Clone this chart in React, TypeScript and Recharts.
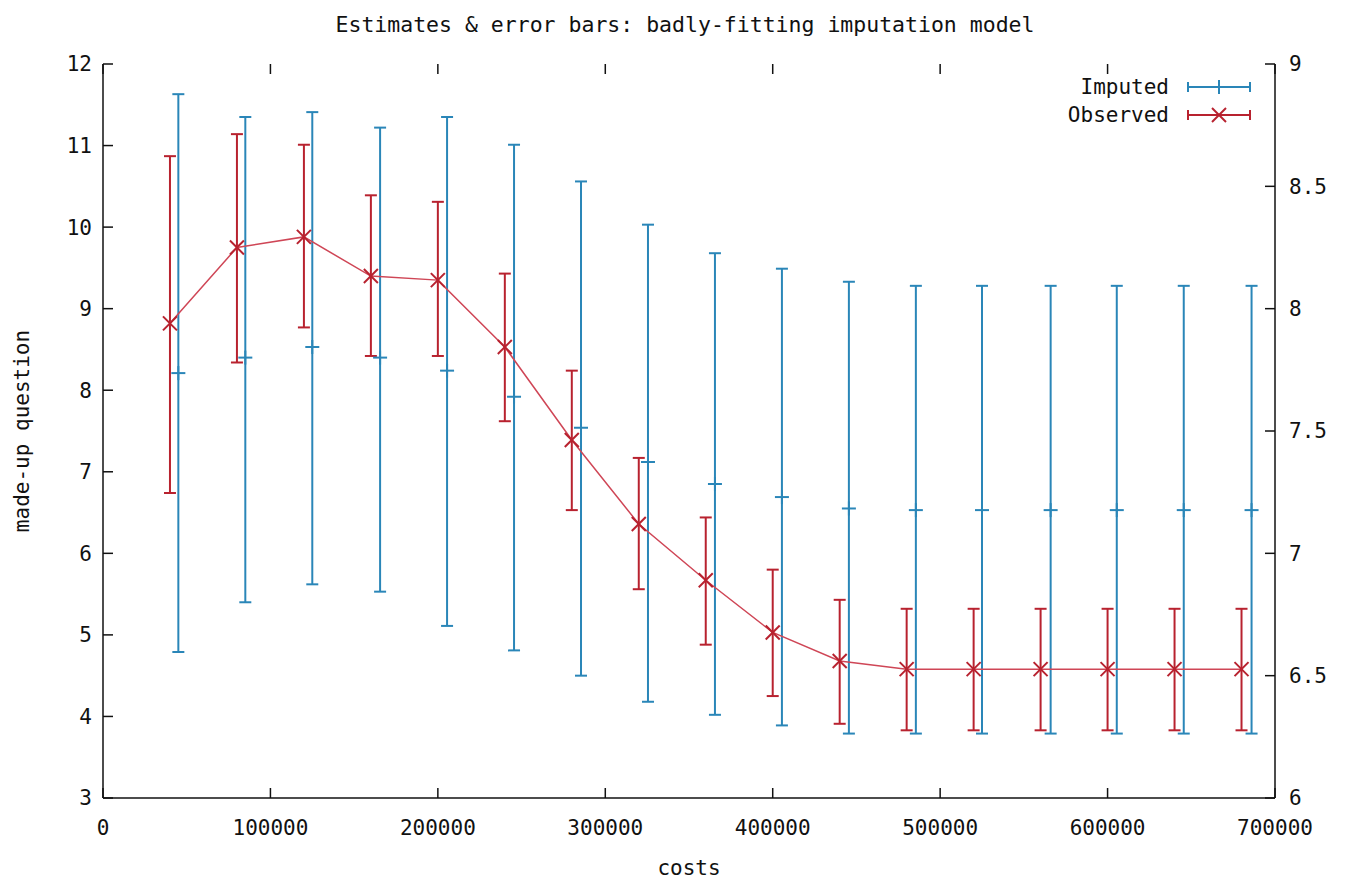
import { ComposedChart, ErrorBar, Legend, Line, ReferenceLine, Scatter, XAxis, YAxis } from 'recharts';

const FONT = '"DejaVu Sans Mono", monospace';
const BLUE = '#2a86b8';
const RED = '#b8222f';
const RED_LINE = '#cf4656';
const INK = '#111';

// x positions (costs)
const OBS_COSTS = [40000, 80000, 120000, 160000, 200000, 240000, 280000, 320000, 360000, 400000, 440000, 480000, 520000, 560000, 600000, 640000, 680000];
const IMP_COSTS = [45000, 85000, 125000, 165500, 205500, 245500, 285500, 325500, 365500, 405500, 445500, 485500, 525000, 566000, 605500, 645500, 686000];

// observed: estimate and error bar ends
const OBS_Y = [8.82, 9.75, 9.88, 9.4, 9.35, 8.53, 7.39, 6.36, 5.67, 5.03, 4.68, 4.58, 4.58, 4.58, 4.58, 4.58, 4.58];
const OBS_LOW = [6.74, 8.34, 8.77, 8.42, 8.42, 7.62, 6.53, 5.56, 4.88, 4.25, 3.91, 3.83, 3.83, 3.83, 3.83, 3.83, 3.83];
const OBS_HIGH = [10.87, 11.14, 11.01, 10.39, 10.31, 9.43, 8.24, 7.17, 6.44, 5.8, 5.43, 5.32, 5.32, 5.32, 5.32, 5.32, 5.32];

// imputed: estimate and error bar ends
const IMP_Y = [8.21, 8.4, 8.53, 8.4, 8.24, 7.92, 7.54, 7.12, 6.85, 6.69, 6.55, 6.53, 6.53, 6.53, 6.53, 6.53, 6.53];
const IMP_LOW = [4.79, 5.4, 5.62, 5.53, 5.11, 4.81, 4.5, 4.18, 4.02, 3.89, 3.79, 3.79, 3.79, 3.79, 3.79, 3.79, 3.79];
const IMP_HIGH = [11.63, 11.35, 11.41, 11.22, 11.35, 11.01, 10.56, 10.03, 9.68, 9.49, 9.33, 9.28, 9.28, 9.28, 9.28, 9.28, 9.28];

const X_TICKS = [0, 100000, 200000, 300000, 400000, 500000, 600000, 700000];
const LEFT_TICKS = [3, 4, 5, 6, 7, 8, 9, 10, 11, 12];
const RIGHT_TICKS = [6, 6.5, 7, 7.5, 8, 8.5, 9];

const X_DOMAIN: [number, number] = [0, 700000];
const LEFT_DOMAIN: [number, number] = [3, 12];
const RIGHT_DOMAIN: [number, number] = [6, 9];

const observed = OBS_COSTS.map((x, i) => ({ x, y: OBS_Y[i], err: [OBS_Y[i] - OBS_LOW[i], OBS_HIGH[i] - OBS_Y[i]] }));
const imputed = IMP_COSTS.map((x, i) => ({ x, y: IMP_Y[i], err: [IMP_Y[i] - IMP_LOW[i], IMP_HIGH[i] - IMP_Y[i]] }));

// inward tick marks (gnuplot style), length as a fraction of each axis span
const TICK_FRAC_X = 10 / 1172;
const TICK_FRAC_Y = 10 / 734;
const dx = (X_DOMAIN[1] - X_DOMAIN[0]) * TICK_FRAC_X;
const dyL = (LEFT_DOMAIN[1] - LEFT_DOMAIN[0]) * TICK_FRAC_Y;
const dyR = (RIGHT_DOMAIN[1] - RIGHT_DOMAIN[0]) * TICK_FRAC_Y;

const tickStyle = { fill: INK, fontSize: 21, fontFamily: FONT };

function PlusMark(props: any) {
  const { cx, cy } = props;
  if (cx == null || cy == null) return null;
  return (
    <g stroke={BLUE} strokeWidth={2}>
      <line x1={cx - 7} x2={cx + 7} y1={cy} y2={cy} />
      <line x1={cx} x2={cx} y1={cy - 7} y2={cy + 7} />
    </g>
  );
}

function CrossMark(props: any) {
  const { cx, cy, index } = props;
  if (cx == null || cy == null) return null;
  return (
    <g key={`x-${index}`} stroke={RED} strokeWidth={2}>
      <line x1={cx - 7} x2={cx + 7} y1={cy - 7} y2={cy + 7} />
      <line x1={cx - 7} x2={cx + 7} y1={cy + 7} y2={cy - 7} />
    </g>
  );
}

function KeyBox() {
  const rows = [
    { label: 'Imputed', color: BLUE, mark: 'plus' },
    { label: 'Observed', color: RED, mark: 'cross' },
  ];
  return (
    <div style={{ fontFamily: FONT, fontSize: 21, color: INK }}>
      {rows.map((r) => (
        <div key={r.label} style={{ display: 'flex', alignItems: 'center', justifyContent: 'flex-end', height: 28 }}>
          <span>{r.label}</span>
          <svg width={66} height={18} style={{ marginLeft: 17 }}>
            <g stroke={r.color} strokeWidth={2}>
              <line x1={2} x2={64} y1={9} y2={9} />
              <line x1={2} x2={2} y1={4} y2={14} />
              <line x1={64} x2={64} y1={4} y2={14} />
              {r.mark === 'plus' ? (
                <line x1={33} x2={33} y1={2} y2={16} />
              ) : (
                <>
                  <line x1={26} x2={40} y1={2} y2={16} />
                  <line x1={26} x2={40} y1={16} y2={2} />
                </>
              )}
            </g>
          </svg>
        </div>
      ))}
    </div>
  );
}

function YTitle(props: any) {
  const vb = props.viewBox;
  const x = vb.x + 22;
  const y = vb.y + vb.height / 2;
  return (
    <text x={x} y={y} transform={`rotate(-90 ${x} ${y})`} textAnchor="middle" dominantBaseline="central" fontSize={21} fontFamily={FONT} fill={INK}>
      made-up question
    </text>
  );
}

function XTitle(props: any) {
  const vb = props.viewBox;
  return (
    <text x={vb.x + vb.width / 2} y={vb.y + 70} textAnchor="middle" dominantBaseline="central" fontSize={21} fontFamily={FONT} fill={INK}>
      costs
    </text>
  );
}

export default function App() {
  return (
    <div style={{ position: 'absolute', left: 0, top: 0, width: 1345, height: 882, background: '#fff' }}>
      <div style={{ position: 'absolute', left: 0, width: 1370, top: 12, textAlign: 'center', fontFamily: FONT, fontSize: 21.5, color: INK }}>
        Estimates &amp; error bars: badly-fitting imputation model
      </div>
      <ComposedChart width={1345} height={882} margin={{ top: 64, right: 0, bottom: 0, left: 0 }} style={{ fontFamily: FONT }}>
        <XAxis
          dataKey="x"
          type="number"
          domain={X_DOMAIN}
          ticks={X_TICKS}
          height={84}
          allowDataOverflow
          stroke={INK}
          strokeWidth={1.5}
          tickSize={0}
          tickLine={false}
          tickMargin={22}
          tick={tickStyle}
          label={<XTitle />}
        />
        <XAxis
          xAxisId="top"
          orientation="top"
          type="number"
          domain={X_DOMAIN}
          ticks={X_TICKS}
          height={0}
          allowDataOverflow
          stroke={INK}
          strokeWidth={1.5}
          tickLine={false}
          tick={false}
        />
        <YAxis
          type="number"
          domain={LEFT_DOMAIN}
          ticks={LEFT_TICKS}
          width={103}
          allowDataOverflow
          stroke={INK}
          strokeWidth={1.5}
          tickSize={0}
          tickLine={false}
          tickMargin={11}
          tick={tickStyle}
          label={<YTitle />}
        />
        <YAxis
          yAxisId="right"
          orientation="right"
          type="number"
          domain={RIGHT_DOMAIN}
          ticks={RIGHT_TICKS}
          width={70}
          allowDataOverflow
          stroke={INK}
          strokeWidth={1.5}
          tickSize={0}
          tickLine={false}
          tickMargin={14}
          tick={tickStyle}
        />
        {X_TICKS.map((v) => (
          <ReferenceLine
            key={`xb-${v}`}
            segment={[{ x: v, y: LEFT_DOMAIN[0] }, { x: v, y: LEFT_DOMAIN[0] + dyL }]}
            stroke={INK}
            strokeWidth={1.5}
            ifOverflow="visible"
          />
        ))}
        {X_TICKS.map((v) => (
          <ReferenceLine
            key={`xt-${v}`}
            segment={[{ x: v, y: LEFT_DOMAIN[1] }, { x: v, y: LEFT_DOMAIN[1] - dyL }]}
            stroke={INK}
            strokeWidth={1.5}
            ifOverflow="visible"
          />
        ))}
        {LEFT_TICKS.map((v) => (
          <ReferenceLine
            key={`yl-${v}`}
            segment={[{ x: X_DOMAIN[0], y: v }, { x: X_DOMAIN[0] + dx, y: v }]}
            stroke={INK}
            strokeWidth={1.5}
            ifOverflow="visible"
          />
        ))}
        {RIGHT_TICKS.map((v) => (
          <ReferenceLine
            key={`yr-${v}`}
            yAxisId="right"
            segment={[{ x: X_DOMAIN[1] - dx, y: v }, { x: X_DOMAIN[1], y: v }]}
            stroke={INK}
            strokeWidth={1.5}
            ifOverflow="visible"
          />
        ))}
        <Legend
          layout="vertical"
          verticalAlign="middle"
          align="center"
          content={<KeyBox />}
          wrapperStyle={{ position: 'absolute', top: 73, left: 1000, width: 252, right: 'auto', bottom: 'auto' }}
        />
        <Scatter name="Imputed" data={imputed} dataKey="y" shape={<PlusMark />} isAnimationActive={false}>
          <ErrorBar dataKey="err" direction="y" width={6} stroke={BLUE} strokeWidth={2} isAnimationActive={false} />
        </Scatter>
        <Line
          name="Observed"
          data={observed}
          dataKey="y"
          type="linear"
          stroke={RED_LINE}
          strokeWidth={1.5}
          dot={(p: any) => <CrossMark {...p} />}
          activeDot={false}
          isAnimationActive={false}
        >
          <ErrorBar dataKey="err" direction="y" width={6} stroke={RED} strokeWidth={2} isAnimationActive={false} />
        </Line>
      </ComposedChart>
    </div>
  );
}
